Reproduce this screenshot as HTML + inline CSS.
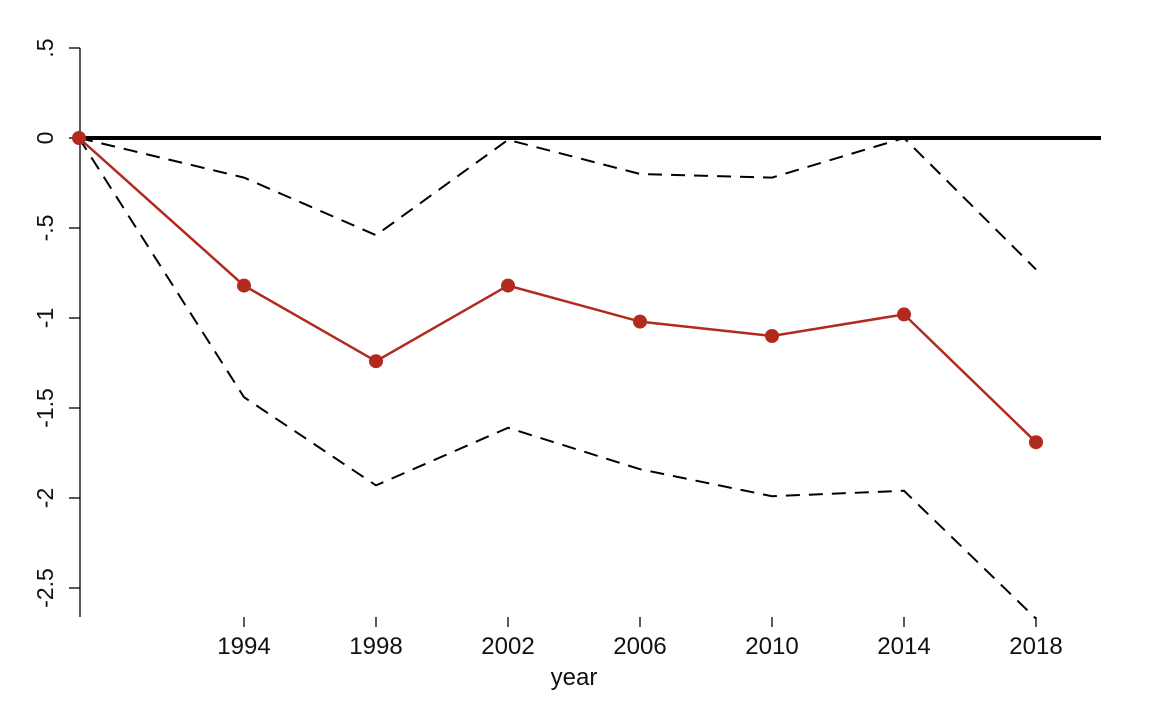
<!DOCTYPE html>
<html><head><meta charset="utf-8"><style>
html,body{margin:0;padding:0;background:#fff;}
svg{display:block;font-family:"Liberation Sans",Arial,sans-serif;}
</style></head><body>
<svg id="chart" width="1150" height="708" viewBox="0 0 1150 708"></svg>
<script>
const years = [1989, 1994, 1998, 2002, 2006, 2010, 2014, 2018];
const estimate = [0, -0.82, -1.24, -0.82, -1.02, -1.10, -0.98, -1.69];
const upperCI = [0, -0.22, -0.54, -0.01, -0.20, -0.22, 0.00, -0.73];
const lowerCI = [0, -1.44, -1.93, -1.61, -1.84, -1.99, -1.96, -2.67];
const xTicks = [1994, 1998, 2002, 2006, 2010, 2014, 2018];
const yTicks = [0.5, 0, -0.5, -1, -1.5, -2, -2.5];
const yTickLabels = [".5", "0", "-.5", "-1", "-1.5", "-2", "-2.5"];

const NS = "http://www.w3.org/2000/svg";
const svg = document.getElementById("chart");
function xs(v){ return 244 + (v - 1994) * 33; }
function ys(v){ return 138 - v * 180; }
function mk(tag, attrs, parent){
  const e = document.createElementNS(NS, tag);
  for (const k in attrs) e.setAttribute(k, attrs[k]);
  (parent || svg).appendChild(e);
  return e;
}

// y axis
const yAxis = mk("g", {});


mk("line", {x1:80, y1:ys(0.5), x2:80, y2:617, stroke:"#000", "stroke-width":1.3}, yAxis);
yTicks.forEach((t, i) => {
  mk("line", {x1:69, y1:ys(t), x2:80, y2:ys(t), stroke:"#000", "stroke-width":1.3}, yAxis);
  const tx = mk("text", {x:0, y:0, transform:`translate(53,${ys(t)}) rotate(-90)`, "text-anchor":"middle", "font-size":23, fill:"#111"}, yAxis);
  
  
  tx.textContent = yTickLabels[i];
});

// x axis ticks
const xAxis = mk("g", {});


xTicks.forEach(t => {
  mk("line", {x1:xs(t), y1:617, x2:xs(t), y2:627, stroke:"#000", "stroke-width":1.3}, xAxis);
  const tx = mk("text", {x:xs(t), y:654, "text-anchor":"middle", "font-size":24, fill:"#111"}, xAxis);
  
  
  tx.textContent = t;
});
const xt = mk("text", {x:xs(2004), y:685, "text-anchor":"middle", "font-size":24, fill:"#111"});


xt.textContent = "year";

// zero line
const zl = mk("line", {x1:80, y1:ys(0), x2:1101, y2:ys(0), stroke:"#000", "stroke-width":4});



function path(vals){
  return vals.map((v, i) => (i ? "L" : "M") + xs(years[i]) + "," + ys(v)).join(" ");
}
const up = mk("path", {d:path(upperCI), fill:"none", stroke:"#000", "stroke-width":2, "stroke-dasharray":"14,9"});


const lo = mk("path", {d:path(lowerCI), fill:"none", stroke:"#000", "stroke-width":2, "stroke-dasharray":"14,9"});


const est = mk("path", {d:path(estimate), fill:"none", stroke:"#b22a1e", "stroke-width":2.5});


estimate.forEach((v, i) => {
  const c = mk("circle", {cx:xs(years[i]), cy:ys(v), r:7, fill:"#b22a1e"});
  
  
});
</script>
</body></html>
